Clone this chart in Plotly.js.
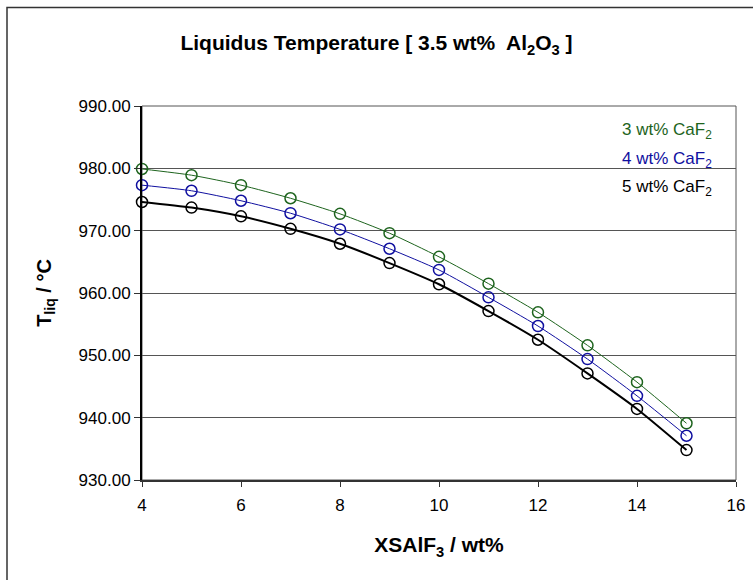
<!DOCTYPE html>
<html>
<head>
<meta charset="utf-8">
<script src="https://cdn.plot.ly/plotly-3.0.1.min.js"></script>
<style>html,body{margin:0;padding:0;background:#fff;}#chart{width:753px;height:580px;}</style>
</head>
<body>
<div id="chart"></div>
<script>
const xsAlF3 = [4, 5, 6, 7, 8, 9, 10, 11, 12, 13, 14, 15];
const caF2_3 = [979.9, 978.9, 977.3, 975.2, 972.7, 969.6, 965.8, 961.5, 956.9, 951.6, 945.7, 939.1];
const caF2_4 = [977.3, 976.4, 974.8, 972.8, 970.2, 967.1, 963.7, 959.3, 954.7, 949.4, 943.5, 937.1];
const caF2_5 = [974.6, 973.7, 972.3, 970.3, 967.9, 964.8, 961.4, 957.1, 952.5, 947.1, 941.4, 934.8];
const seriesNames = ['3 wt% CaF<sub>2</sub>', '4 wt% CaF<sub>2</sub>', '5 wt% CaF<sub>2</sub>'];
const yTickVals = [930, 940, 950, 960, 970, 980, 990];
const yTickText = ['930.00', '940.00', '950.00', '960.00', '970.00', '980.00', '990.00'];
const xTickVals = [4, 6, 8, 10, 12, 14, 16];

const colors = ['#1e641e', '#1010a0', '#000000'];
const widths = [1, 1, 2];
const ys = [caF2_3, caF2_4, caF2_5];
const font = 'Liberation Sans, Arial, sans-serif';

const traces = ys.map((y, i) => ({
  x: xsAlF3, y: y, type: 'scatter', mode: 'lines+markers', name: seriesNames[i],
  line: {color: colors[i], width: widths[i], shape: 'spline', smoothing: 0.6},
  marker: {symbol: 'circle-open', size: 11, color: colors[i], line: {color: colors[i], width: 1.5}},
  showlegend: false, cliponaxis: false
}));

const legendY = [986.0, 981.4, 976.9];
const annotations = seriesNames.map((n, i) => ({
  x: 1.0, xref: 'paper', xanchor: 'right', xshift: -22,
  y: legendY[i], yref: 'y', yanchor: 'middle',
  text: n, showarrow: false, font: {family: font, size: 17, color: colors[i]}
}));

const layout = {
  width: 753, height: 580,
  margin: {l: 142, r: 17, t: 106, b: 100},
  paper_bgcolor: '#ffffff', plot_bgcolor: '#ffffff',
  title: {text: '<b>Liquidus Temperature [ 3.5 wt%  Al<sub>2</sub>O<sub>3</sub> ]</b>', x: 0.5, xref: 'container', xanchor: 'center',
          y: 1 - 43/580, yref: 'container', yanchor: 'middle', font: {family: font, size: 21, color: '#000'}},
  xaxis: {
    range: [4, 16], tickvals: xTickVals, ticks: 'outside', ticklen: 5, tickcolor: '#333',
    ticklabelstandoff: 4,
    showgrid: false, zeroline: false, showline: true, linecolor: '#333', linewidth: 2,
    tickfont: {family: font, size: 17, color: '#000'},
    title: {text: '<b>XSAlF<sub>3</sub> / wt%</b>', font: {family: font, size: 21, color: '#000'}, standoff: 23}
  },
  yaxis: {
    range: [930, 990], tickvals: yTickVals, ticktext: yTickText, ticks: 'outside', ticklen: 6, tickcolor: '#333',
    showgrid: true, gridcolor: '#555', gridwidth: 1, zeroline: false,
    showline: true, linecolor: '#000', linewidth: 2,
    tickfont: {family: font, size: 17, color: '#000'},
    title: {text: '<b>T<sub>liq</sub> / °C</b>', font: {family: font, size: 20, color: '#000'}, standoff: 22}
  },
  shapes: [
    {type: 'rect', xref: 'paper', yref: 'paper', x0: 0, x1: 1, y0: 0, y1: 1, line: {color: '#555', width: 1}, layer: 'below'},
    {type: 'rect', xref: 'paper', yref: 'paper', x0: (7-142)/594, x1: 1.1, y0: -0.4, y1: (480-7.5)/374, line: {color: '#333', width: 1.5}, layer: 'below'}
  ],
  annotations: annotations
};

Plotly.newPlot('chart', traces, layout, {staticPlot: true, displayModeBar: false});
</script>
</body>
</html>
